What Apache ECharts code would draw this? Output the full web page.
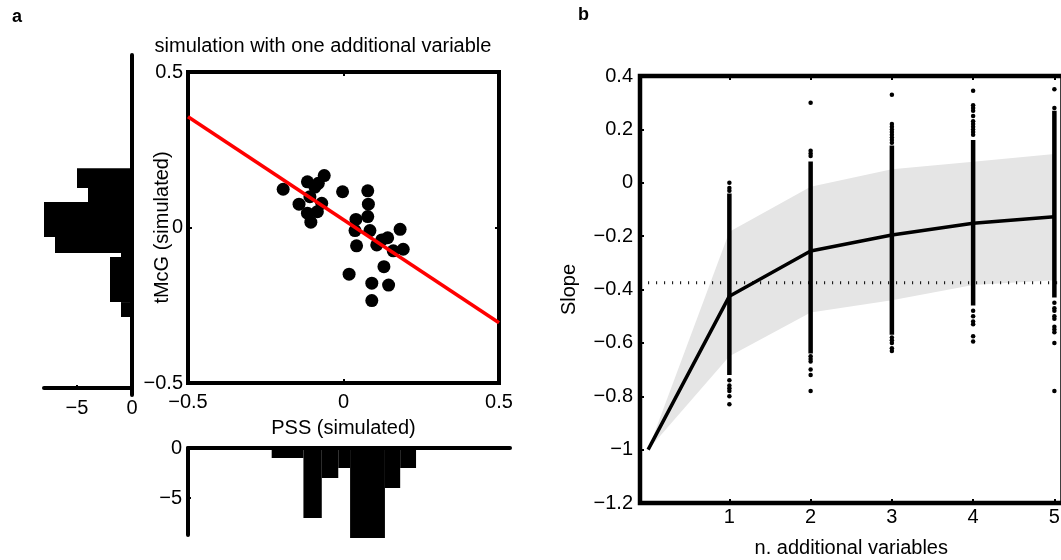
<!DOCTYPE html>
<html>
<head>
<meta charset="utf-8">
<script src="https://cdn.jsdelivr.net/npm/echarts@6.0.0/dist/echarts.min.js"></script>
<style>
html,body{margin:0;padding:0;background:#fff;}
#chart{width:1061px;height:560px;}
</style>
</head>
<body>
<div id="chart"></div>
<script>
// ---------- Panel a: scatter ----------
const scatterPSS = [-0.194,-0.116,-0.081,-0.062,-0.092,-0.108,-0.143,-0.070,-0.116,-0.084,-0.105,-0.003,0.078,0.080,0.078,0.040,0.037,0.085,0.042,0.107,0.142,0.182,0.160,0.192,0.018,0.130,0.091,0.145,0.091,0.123];
const scatterMcG = [0.123,0.147,0.142,0.167,0.130,0.099,0.075,0.078,0.046,0.051,0.017,0.115,0.118,0.075,0.035,0.026,-0.010,-0.010,-0.059,-0.056,-0.033,-0.006,-0.075,-0.070,-0.150,-0.126,-0.179,-0.185,-0.235,-0.040];
const fitLineX = [-0.5, 0.5];
const fitLineY = [0.356, -0.306];

// left histogram (tMcG counts, drawn leftwards)
const leftHistLo = [0.127, 0.082, -0.031, -0.082, -0.095, -0.240, -0.288];
const leftHistHi = [0.191, 0.127, 0.082, -0.031, -0.082, -0.095, -0.240];
const leftHistCount = [5, 4, 8, 7, 1, 2, 1];
const leftHistTicks = [-5, 0];

// bottom histogram (PSS counts, drawn downwards)
const bottomHistLo = [-0.231, -0.129, -0.070, -0.017, 0.021, 0.133, 0.182];
const bottomHistHi = [-0.129, -0.070, -0.017, 0.021, 0.133, 0.182, 0.233];
const bottomHistCount = [1, 7, 3, 2, 9, 4, 2];
const bottomHistTicks = [-5, 0];

// ---------- Panel b ----------
const nVars = [0, 1, 2, 3, 4, 5];
const meanSlope = [-1.0, -0.425, -0.256, -0.196, -0.152, -0.127];
const bandUpper = [-1.0, -0.184, -0.015, 0.051, 0.079, 0.108];
const bandLower = [-1.0, -0.650, -0.486, -0.440, -0.383, -0.365];
const refSlope = -0.375;
const xTicksB = [1, 2, 3, 4, 5];
const colX = [1, 2, 3, 4, 5];
const colLo = [-0.72, -0.64, -0.57, -0.46, -0.43];
const colHi = [-0.04, 0.08, 0.14, 0.16, 0.27];
const col1Out = [0.0, -0.02, -0.03, -0.74, -0.76, -0.77, -0.78, -0.80, -0.83];
const col2Out = [0.30, 0.12, 0.11, 0.10, -0.65, -0.66, -0.67, -0.70, -0.72, -0.78];
const col3Out = [0.33, 0.22, 0.21, 0.20, 0.19, 0.18, 0.17, 0.16, 0.15, -0.58, -0.59, -0.60, -0.62, -0.63];
const col4Out = [0.345, 0.29, 0.28, 0.27, 0.25, 0.23, 0.22, 0.21, 0.20, 0.19, 0.18, -0.48, -0.50, -0.52, -0.53, -0.575, -0.595];
const col5Out = [0.35, 0.28, -0.45, -0.47, -0.48, -0.50, -0.51, -0.54, -0.55, -0.56, -0.60, -0.78];

// ---------- build ----------
const FONT = 'Liberation Sans, Arial, Helvetica, sans-serif';
const FS = 20;
const fmt = v => (v < 0 ? '\u2212' + String(-v) : String(v));
const lbl = (extra) => Object.assign({color:'#000', fontSize:FS, fontFamily:FONT, formatter:fmt}, extra||{});
const tick = (extra) => Object.assign({show:true, inside:true, length:4, lineStyle:{color:'#000', width:2}}, extra||{});
const noLine = {show:false, onZero:false};
const thickLine = {show:true, onZero:false, lineStyle:{color:'#000', width:4}};
const nameStyle = {color:'#000', fontSize:FS, fontFamily:FONT};

const scatterData = scatterPSS.map((x,i)=>[x, scatterMcG[i]]);
const leftHistData = leftHistLo.map((lo,i)=>[lo, leftHistHi[i], leftHistCount[i]]);
const bottomHistData = bottomHistLo.map((lo,i)=>[lo, bottomHistHi[i], bottomHistCount[i]]);
const colData = colX.map((x,i)=>[x, colLo[i], colHi[i]]);
const outs = [col1Out, col2Out, col3Out, col4Out, col5Out];
const outData = [];
outs.forEach((arr,i)=>arr.forEach(y=>outData.push([colX[i], y])));

const chart = echarts.init(document.getElementById('chart'), null, {renderer:'canvas'});
const option = {
  animation:false,
  backgroundColor:'#fff',
  textStyle:{fontFamily:FONT},
  title:[
    {text:'a', left:12, top:8, padding:0, textStyle:{fontWeight:'bold', fontSize:18, fontFamily:FONT, color:'#000'}},
    {text:'b', left:578, top:6, padding:0, textStyle:{fontWeight:'bold', fontSize:18, fontFamily:FONT, color:'#000'}},
    {text:'simulation with one additional variable', left:323, textAlign:'center', top:36, padding:0,
     textStyle:{fontWeight:'normal', fontSize:FS, fontFamily:FONT, color:'#000'}}
  ],
  grid:[
    {left:188, top:72, width:311, height:311, show:true, borderColor:'#000', borderWidth:4, backgroundColor:'transparent', outerBoundsMode:'none', containLabel:false},
    {left:44, top:55, width:88, height:340, outerBoundsMode:'none', containLabel:false},
    {left:188, top:448, width:322, height:87, outerBoundsMode:'none', containLabel:false},
    {left:640, top:76, width:422.5, height:427, show:true, borderColor:'#000', borderWidth:4.5, backgroundColor:'transparent', outerBoundsMode:'none', containLabel:false}
  ],
  xAxis:[
    {gridIndex:0, type:'value', position:'bottom', min:-0.5, max:0.5, interval:0.5,
     axisLine:noLine, splitLine:{show:false}, axisTick:tick(), axisLabel:lbl({margin:9}),
     name:'PSS (simulated)', nameLocation:'middle', nameGap:35, nameMoveOverlap:false, nameTextStyle:nameStyle},
    {gridIndex:0, type:'value', position:'top', min:-0.5, max:0.5, interval:0.5,
     axisLine:noLine, splitLine:{show:false}, axisTick:tick(), axisLabel:{show:false}},
    {gridIndex:1, type:'value', position:'bottom', offset:-7, min:-8, max:0,
     axisLine:thickLine, splitLine:{show:false},
     axisTick:tick({customValues:[-5], length:3}), axisLabel:lbl({customValues:leftHistTicks, margin:10})},
    {gridIndex:2, type:'value', position:'top', min:-0.5, max:0.535,
     axisLine:thickLine, splitLine:{show:false},
     axisTick:{show:false}, axisLabel:{show:false}},
    {gridIndex:3, type:'value', position:'bottom', min:-0.1, max:5.1,
     axisLine:noLine, splitLine:{show:false}, axisTick:tick({customValues:xTicksB}), axisLabel:lbl({customValues:xTicksB, margin:4}),
     name:'n. additional variables', nameLocation:'middle', nameGap:35, nameMoveOverlap:false, nameTextStyle:nameStyle},
    {gridIndex:3, type:'value', position:'top', min:-0.1, max:5.1,
     axisLine:noLine, splitLine:{show:false}, axisTick:tick({customValues:xTicksB}), axisLabel:{show:false}}
  ],
  yAxis:[
    {gridIndex:0, type:'value', position:'left', min:-0.5, max:0.5, interval:0.5,
     axisLine:noLine, splitLine:{show:false}, axisTick:tick(), axisLabel:lbl({margin:5}),
     name:'tMcG (simulated)', nameLocation:'middle', nameGap:16, nameRotate:90, nameMoveOverlap:false, nameTextStyle:nameStyle},
    {gridIndex:0, type:'value', position:'right', min:-0.5, max:0.5, interval:0.5,
     axisLine:noLine, splitLine:{show:false}, axisTick:tick(), axisLabel:{show:false}},
    {gridIndex:1, type:'value', position:'right', min:-0.539, max:0.555,
     axisLine:thickLine, splitLine:{show:false},
     axisTick:{show:false}, axisLabel:{show:false}},
    {gridIndex:2, type:'value', position:'left', min:-8.7, max:0,
     axisLine:thickLine, splitLine:{show:false},
     axisTick:tick({customValues:[-5], length:3}), axisLabel:lbl({customValues:bottomHistTicks, margin:6})},
    {gridIndex:3, type:'value', position:'left', min:-1.2, max:0.4, interval:0.2,
     axisLine:noLine, splitLine:{show:false}, axisTick:tick(), axisLabel:lbl({margin:7}),
     name:'Slope', nameLocation:'middle', nameGap:61, nameRotate:90, nameMoveOverlap:false, nameTextStyle:nameStyle}
  ],
  series:[
    {type:'scatter', xAxisIndex:0, yAxisIndex:0, data:scatterData, symbol:'circle', symbolSize:13,
     itemStyle:{color:'#000', opacity:1}, z:3},
    {type:'line', xAxisIndex:0, yAxisIndex:0, data:fitLineX.map((x,i)=>[x, fitLineY[i]]), symbol:'none',
     lineStyle:{color:'#ff0000', width:3.5}, z:4},
    {type:'custom', xAxisIndex:2, yAxisIndex:2, data:leftHistData, clip:false,
     renderItem:(params, api)=>{
       const lo=api.value(0), hi=api.value(1), c=api.value(2);
       const a=api.coord([-c, hi]); const b=api.coord([0, lo]);
       return {type:'rect', shape:{x:a[0], y:a[1], width:b[0]-a[0], height:b[1]-a[1]}, style:{fill:'#000'}};
     }},
    {type:'custom', xAxisIndex:3, yAxisIndex:3, data:bottomHistData, clip:false,
     renderItem:(params, api)=>{
       const lo=api.value(0), hi=api.value(1), c=api.value(2);
       const a=api.coord([lo, 0]); const b=api.coord([hi, -c]);
       return {type:'rect', shape:{x:a[0], y:a[1], width:b[0]-a[0], height:b[1]-a[1]}, style:{fill:'#000'}};
     }},
    {type:'custom', xAxisIndex:4, yAxisIndex:4, data:[[0, bandLower[0]]], z:1,
     renderItem:(params, api)=>{
       const up = nVars.map((x,i)=>api.coord([x, bandUpper[i]]));
       const low = nVars.map((x,i)=>api.coord([x, bandLower[i]])).reverse();
       return {type:'polygon', shape:{points:up.concat(low)}, style:{fill:'#e5e5e5'}};
     }},
    {type:'line', xAxisIndex:4, yAxisIndex:4, data:[[0, refSlope],[5.1, refSlope]], symbol:'none', z:2,
     lineStyle:{color:'#000', width:3, type:[1,7]}},
    {type:'custom', xAxisIndex:4, yAxisIndex:4, data:colData, z:3,
     renderItem:(params, api)=>{
       const x=api.value(0), lo=api.value(1), hi=api.value(2);
       const a=api.coord([x, hi]); const b=api.coord([x, lo]);
       return {type:'rect', shape:{x:a[0]-2.25, y:a[1], width:4.5, height:b[1]-a[1]}, style:{fill:'#000'}};
     }},
    {type:'scatter', xAxisIndex:4, yAxisIndex:4, data:outData, symbol:'circle', symbolSize:4.5,
     itemStyle:{color:'#000', opacity:1}, z:3},
    {type:'line', xAxisIndex:4, yAxisIndex:4, data:nVars.map((x,i)=>[x, meanSlope[i]]), symbol:'none', z:5,
     lineStyle:{color:'#000', width:3.5}}
  ]
};
chart.setOption(option);
</script>
</body>
</html>
